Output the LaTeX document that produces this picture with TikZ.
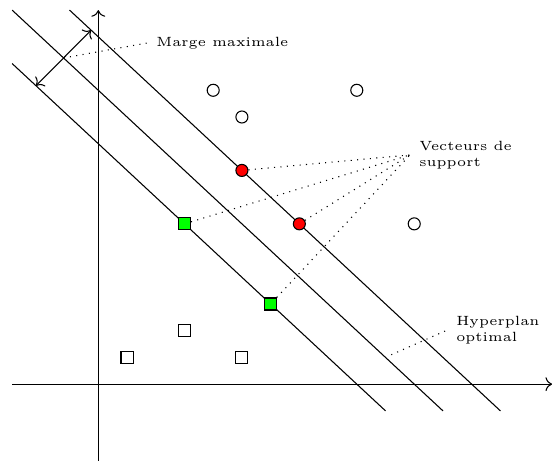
\documentclass[tikz,border=0pt]{standalone}
\usetikzlibrary{arrows.meta,positioning,calc}

\begin{document}
\begin{tikzpicture}[x=10.74pt, y=9.99pt,
  pt/.style={draw, inner sep=0pt, minimum size=4.5pt},
  circ/.style={pt, circle, fill=white},
  sq/.style={pt, rectangle, fill=white},
  lbl/.style={font=\tiny, align=left, anchor=west, inner sep=3.3pt}
]
  \useasboundingbox (-3.423,-2.846) rectangle (15.797,14.38);

  % Axes
  \draw[->] (-3,0) -- (15.8,0);
  \draw[->] (0,-3) -- (0,14);

  % Hyperplanes
  \draw (-3,12) -- (10,-1);
  \draw (-3,14) -- (12,-1);
  \draw (-1,14) -- (14,-1);

  % Margin
  \coordinate (m1) at (-2.17,11.17);
  \coordinate (m2) at (-0.25,13.25);
  \coordinate (mm) at ($(m1)!0.5!(m2)$);
  \draw[<->] (m1) -- (m2);

  % Class 1
  \node[sq] (s1) at (1,1) {};
  \node[sq] (s2) at (3,2) {};
  \node[sq] (s3) at (5,1) {};
  \node[sq, fill=green] (w1) at (3,6) {};
  \node[sq, fill=green] (w2) at (6,3) {};

  % Class 2
  \node[circ] (c1) at (4,11) {};
  \node[circ] (c2) at (5,10) {};
  \node[circ] (c3) at (9,11) {};
  \node[circ] (c4) at (11,6) {};
  \node[circ, fill=red] (v1) at (5,8) {};
  \node[circ, fill=red] (v2) at (7,6) {};

  % Labels
  \node[lbl] (marge) at (1.70,12.77) {Marge maximale};
  \draw[dotted] (mm) -- (marge.west);

  \node[lbl] (vs) at (10.85,8.58) {Vecteurs de\\support};
  \foreach \p in {v1,v2,w1,w2}
    \draw[dotted] (\p) -- (vs.west);

  \coordinate (hp) at (10.2,1.1);
  \node[lbl] (hyp) at (12.14,2.02) {Hyperplan\\optimal};
  \draw[dotted] (hp) -- (hyp.west);
\end{tikzpicture}
\end{document}
